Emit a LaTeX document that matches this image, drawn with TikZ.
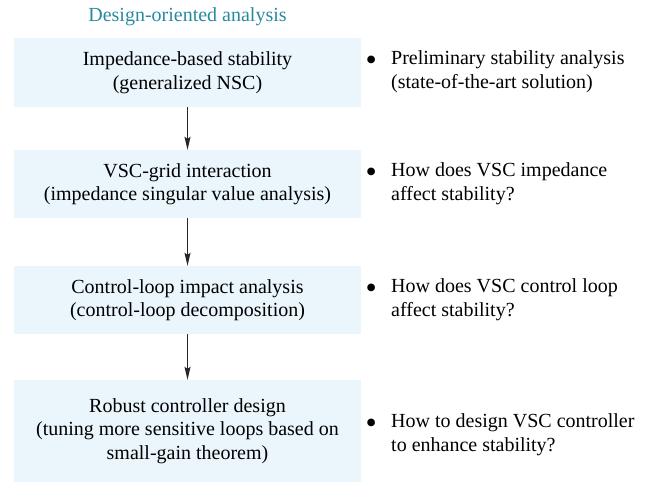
\documentclass[tikz,border=0pt]{standalone}
\usepackage{fontspec}
\setmainfont{Liberation Serif}
\usetikzlibrary{arrows.meta}
\definecolor{boxblue}{RGB}{234,246,252}
\definecolor{titleteal}{RGB}{40,138,160}
\newcommand{\bigdot}{\makebox[8pt]{\raisebox{-0.27em}{\scalebox{1.6}{\textbullet}}}}
\newcommand{\bitem}[2]{\begin{tabular}{@{}l@{\hspace{16pt}}l@{}}\bigdot & #1\\ & #2\end{tabular}}
\begin{document}
\begin{tikzpicture}[every node/.style={font=\fontsize{20}{23.5}\selectfont},
	stagebox/.style={rectangle, fill=boxblue, minimum width=347pt, inner sep=0pt, text centered, align=center},
	question/.style={anchor=west, inner sep=0pt, align=left},
	flow/.style={-{Stealth[length=13pt, width=6pt, inset=2pt]}, line width=1.1pt, black!85}]
	\useasboundingbox (0, 0) rectangle (658pt, -485pt);
	\node[text=titleteal] (title) at (187.5pt, -17pt) {Design-oriented analysis};

	\node[stagebox, minimum height=69pt]	(imp) at (187.5pt, -72.5pt)
		{Impedance-based stability\\(generalized NSC)};
	\node[stagebox, minimum height=68pt]	(vsc) at (187.5pt, -184pt)
		{VSC-grid interaction\\(impedance singular value analysis)};
	\node[stagebox, minimum height=68pt]	(ctl) at (187.5pt, -300pt)
		{Control-loop impact analysis\\(control-loop decomposition)};
	\node[stagebox, minimum height=102pt]	(rob) at (187.5pt, -431pt)
		{Robust controller design\\(tuning more sensitive loops based on\\small-gain theorem)};

	\draw[flow] (imp) -- (vsc);
	\draw[flow] (vsc) -- (ctl);
	\draw[flow] (ctl) -- (rob);

	\node[question] (q1) at (367pt, -72pt)	{\bitem{Preliminary stability analysis}{(state-of-the-art solution)}};
	\node[question] (q2) at (367pt, -184pt)	{\bitem{How does VSC impedance}{affect stability?}};
	\node[question] (q3) at (367pt, -300pt)	{\bitem{How does VSC control loop}{affect stability?}};
	\node[question] (q4) at (367pt, -435pt)	{\bitem{How to design VSC controller}{to enhance stability?}};
\end{tikzpicture}
\end{document}
